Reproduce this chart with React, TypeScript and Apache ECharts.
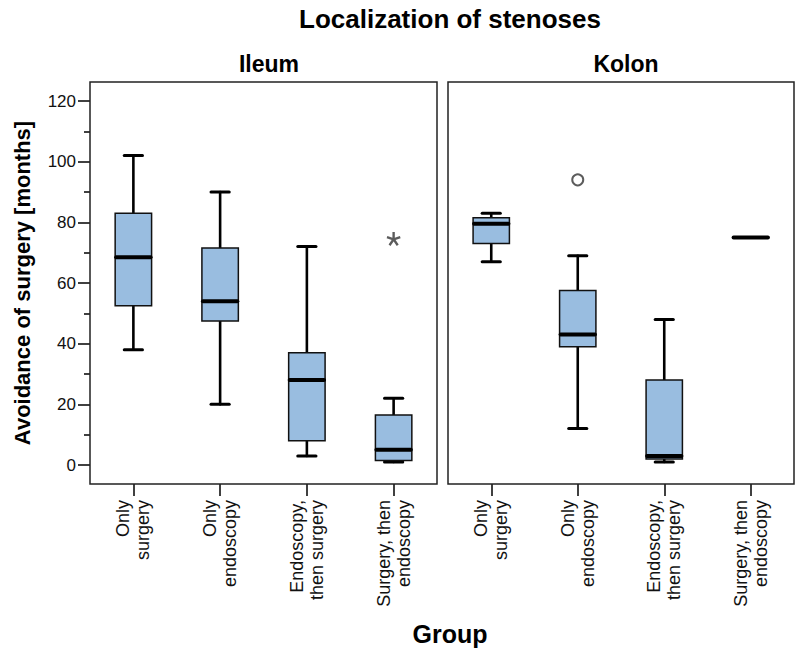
import React, { useEffect, useRef } from 'react';
import * as echarts from 'echarts';

const chartTitle = 'Localization of stenoses';
const panels = ['Ileum', 'Kolon'];
const categories = ['Only\nsurgery', 'Only\nendoscopy', 'Endoscopy,\nthen surgery', 'Surgery, then\nendoscopy'];
const yName = 'Avoidance of surgery [months]';
const xName = 'Group';
const yTicks = [0, 20, 40, 60, 80, 100, 120];

// [min, Q1, median, Q3, max]
const ileumBoxes = [
  [38, 52.5, 68.5, 83, 102],
  [20, 47.5, 54, 71.5, 90],
  [3, 8, 28, 37, 72],
  [1, 1.5, 5, 16.5, 22],
];
const kolonBoxes = [
  [67, 73, 79.5, 81.5, 83],
  [12, 39, 43, 57.5, 69],
  [1, 2, 3, 28, 48],
  [75, 75, 75, 75, 75],
];
// [category index, value]
const ileumExtremes = [[3, 74.5]];
const kolonOutliers = [[1, 94]];

const FONT = '"Liberation Sans", Arial, sans-serif';
const BOX_FILL = '#99bde0';

function starPath(): string {
  const c = 10, r = 10, w = 1.7;
  let d = '';
  for (let k = 0; k < 5; k++) {
    const a = (-90 + 72 * k) * Math.PI / 180;
    const dx = Math.cos(a), dy = Math.sin(a);
    const px = -dy * w, py = dx * w;
    const pts = [
      [c + px, c + py],
      [c + dx * r + px, c + dy * r + py],
      [c + dx * r - px, c + dy * r - py],
      [c - px, c - py],
    ];
    d += 'M' + pts.map((p) => p[0].toFixed(2) + ' ' + p[1].toFixed(2)).join('L') + 'Z';
  }
  return 'path://' + d;
}

const renderBox = (params: any, api: any) => {
  const x = api.value(0);
  const mn = api.value(1), q1 = api.value(2), md = api.value(3), q3 = api.value(4), mx = api.value(5);
  const band = api.size([1, 0])[0];
  const bw = band * 0.42;
  const cw = bw * 0.5;
  const cx = api.coord([x, md])[0];
  const y = (v: number) => api.coord([x, v])[1];
  const line = (x1: number, y1: number, x2: number, y2: number, lw: number) => ({
    type: 'line',
    shape: { x1, y1, x2, y2 },
    style: { stroke: '#000', lineWidth: lw, lineCap: 'round' },
  });
  const wl = 2.6;
  return {
    type: 'group',
    children: [
      line(cx, y(mx), cx, y(q3), wl),
      line(cx, y(q1), cx, y(mn), wl),
      line(cx - cw / 2, y(mx), cx + cw / 2, y(mx), 3),
      line(cx - cw / 2, y(mn), cx + cw / 2, y(mn), 3),
      {
        type: 'rect',
        shape: { x: cx - bw / 2, y: y(q3), width: bw, height: y(q1) - y(q3) },
        style: { fill: BOX_FILL, stroke: '#111', lineWidth: 1.5 },
      },
      line(cx - bw / 2 + 1, y(md), cx + bw / 2 - 1, y(md), 4),
    ],
  };
};

export default function App() {
  const ref = useRef<HTMLDivElement>(null);
  useEffect(() => {
    if (!ref.current) return;
    const chart = echarts.init(ref.current, undefined, { renderer: 'svg' });
    const tickInterval = yTicks[1] - yTicks[0];
    const grids = [
      { left: 90, top: 101, width: 347, height: 364 },
      { left: 448, top: 101, width: 346, height: 364 },
    ];
    const frameTop = 82, frameBottom = 484;
    const makeX = (gi: number) => ({
      type: 'category',
      gridIndex: gi,
      data: categories,
      boundaryGap: true,
      position: 'bottom',
      offset: frameBottom - (grids[gi].top + grids[gi].height),
      axisLine: { show: false, onZero: false },
      axisTick: { show: true, alignWithLabel: true, length: 12, lineStyle: { color: '#000', width: 1.5 } },
      axisLabel: {
        interval: 0,
        rotate: 90,
        margin: 16,
        fontSize: 18,
        lineHeight: 20,
        padding: [8, 0, 0, 0],
        color: '#111',
        fontFamily: FONT,
      },
      splitLine: { show: false },
    });
    const makeY = (gi: number, show: boolean) => ({
      type: 'value',
      gridIndex: gi,
      min: yTicks[0],
      max: yTicks[yTicks.length - 1],
      interval: tickInterval,
      show,
      name: show ? yName : '',
      nameLocation: 'middle',
      nameGap: 57,
      nameTextStyle: { fontSize: 22, fontWeight: 'bold', color: '#000', fontFamily: FONT },
      axisLine: { show: false, onZero: false },
      axisTick: { show: true, length: 12, lineStyle: { color: '#000', width: 1.5 } },
      minorTick: { show: true, splitNumber: 2, length: 6, lineStyle: { color: '#000', width: 1.5 } },
      axisLabel: { fontSize: 17, margin: 14, color: '#111', fontFamily: FONT },
      splitLine: { show: false },
      minorSplitLine: { show: false },
    });
    const titleStyle = { fontWeight: 'bold', color: '#000', fontFamily: FONT };
    const option: any = {
      animation: false,
      backgroundColor: '#fff',
      title: [
        { text: chartTitle, left: 445, top: 1, textAlign: 'center', textStyle: { ...titleStyle, fontSize: 26 } },
        { text: panels[0], left: 264, top: 47, textAlign: 'center', textStyle: { ...titleStyle, fontSize: 23 } },
        { text: panels[1], left: 621, top: 47, textAlign: 'center', textStyle: { ...titleStyle, fontSize: 23 } },
        { text: xName, left: 445, top: 616, textAlign: 'center', textStyle: { ...titleStyle, fontSize: 25 } },
      ],
      grid: grids,
      xAxis: [makeX(0), makeX(1)],
      yAxis: [makeY(0, true), makeY(1, false)],
      graphic: grids.map((g) => ({
        type: 'rect',
        shape: { x: g.left, y: frameTop, width: g.width, height: frameBottom - frameTop },
        style: { fill: 'none', stroke: '#222', lineWidth: 1.5 },
        z: 1,
        silent: true,
      })),
      series: [
        {
          type: 'custom',
          name: panels[0],
          xAxisIndex: 0,
          yAxisIndex: 0,
          renderItem: renderBox,
          encode: { x: 0, y: [1, 2, 3, 4, 5] },
          data: ileumBoxes.map((b, i) => [i, ...b]),
          z: 3,
        },
        {
          type: 'custom',
          name: panels[1],
          xAxisIndex: 1,
          yAxisIndex: 1,
          renderItem: renderBox,
          encode: { x: 0, y: [1, 2, 3, 4, 5] },
          data: kolonBoxes.map((b, i) => [i, ...b]),
          z: 3,
        },
        {
          type: 'scatter',
          xAxisIndex: 0,
          yAxisIndex: 0,
          symbol: starPath(),
          symbolSize: 14,
          itemStyle: { color: '#333' },
          data: ileumExtremes,
          z: 4,
        },
        {
          type: 'scatter',
          xAxisIndex: 1,
          yAxisIndex: 1,
          symbol: 'circle',
          symbolSize: 11,
          itemStyle: { color: '#fff', borderColor: '#333', borderWidth: 2 },
          data: kolonOutliers,
          z: 4,
        },
      ],
    };
    chart.setOption(option);
    return () => chart.dispose();
  }, []);
  return <div ref={ref} style={{ position: 'fixed', left: 0, top: 0, width: 800, height: 653 }} />;
}
